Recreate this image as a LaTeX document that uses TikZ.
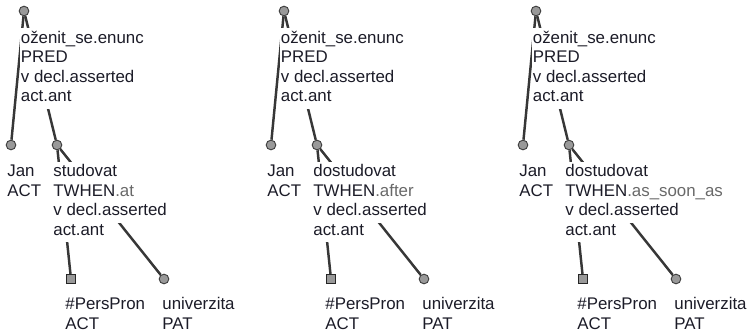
\documentclass[tikz,border=0pt]{standalone}
\usepackage{fontspec}
\setmainfont{Liberation Sans}
\usepackage{tikz}

\definecolor{txt}{RGB}{28,28,40}
\definecolor{func}{RGB}{105,105,105}
\definecolor{edgecol}{RGB}{55,55,55}
\setlength{\fboxsep}{1pt}
\newcommand{\lbox}[1]{\smash{\colorbox{white}{\strut #1}}}
\newcommand{\suff}[1]{\textcolor{func}{#1}}

\begin{document}
\begin{tikzpicture}[x=0.03cm, y=-0.03cm,
    roundnode/.style={circle, draw=black!75, fill=black!40, line width=0.8pt, inner sep=0pt, minimum size=0.29cm},
    squarenode/.style={rectangle, draw=black!85, fill=black!40, line width=0.9pt, inner sep=0pt, minimum size=0.27cm},
    treeline/.style={draw=edgecol, line width=2.1pt},
    lbl/.style={anchor=base west, inner sep=0pt, align=left, text=txt, font=\fontsize{14.4}{16.6}\selectfont}
    ]
    \useasboundingbox (0,0) rectangle (748,336);

    % tree 1 (labels placed at the baseline of their last line)
    \node [roundnode] (a1) at (24,11) {};
    \node [roundnode] (a2) at (11,145) {};
    \node [roundnode] (a3) at (57,145) {};
    \node [squarenode] (a4) at (71,279) {};
    \node [roundnode] (a5) at (164,279) {};
    \draw [treeline] (a1) edge (a2);
    \draw [treeline] (a1) edge (a3);
    \draw [treeline] (a3) edge (a4);
    \draw [treeline] (a3) edge (a5);
    \node [lbl] (a1l) at (19.5,101.5) {\lbox{oženit\_se.enunc}\\\lbox{PRED}\\\lbox{v decl.asserted}\\\lbox{act.ant}};
    \node [lbl] (a2l) at (6,196) {\lbox{Jan}\\\lbox{ACT}};
    \node [lbl] (a3l) at (52,235) {\lbox{studovat}\\\lbox{TWHEN\suff{.at}}\\\lbox{v decl.asserted}\\\lbox{act.ant}};
    \node [lbl] (a4l) at (64,329) {\lbox{\#PersPron}\\\lbox{ACT}};
    \node [lbl] (a5l) at (161,329) {\lbox{univerzita}\\\lbox{PAT}};

    % tree 2
    \begin{scope}[shift={(260,0)}]
    \node [roundnode] (b1) at (24,11) {};
    \node [roundnode] (b2) at (11,145) {};
    \node [roundnode] (b3) at (57,145) {};
    \node [squarenode] (b4) at (71,279) {};
    \node [roundnode] (b5) at (164,279) {};
    \draw [treeline] (b1) edge (b2);
    \draw [treeline] (b1) edge (b3);
    \draw [treeline] (b3) edge (b4);
    \draw [treeline] (b3) edge (b5);
    \node [lbl] (b1l) at (19.5,101.5) {\lbox{oženit\_se.enunc}\\\lbox{PRED}\\\lbox{v decl.asserted}\\\lbox{act.ant}};
    \node [lbl] (b2l) at (6,196) {\lbox{Jan}\\\lbox{ACT}};
    \node [lbl] (b3l) at (52,235) {\lbox{dostudovat}\\\lbox{TWHEN\suff{.after}}\\\lbox{v decl.asserted}\\\lbox{act.ant}};
    \node [lbl] (b4l) at (64,329) {\lbox{\#PersPron}\\\lbox{ACT}};
    \node [lbl] (b5l) at (161,329) {\lbox{univerzita}\\\lbox{PAT}};
    \end{scope}

    % tree 3
    \begin{scope}[shift={(512,0)}]
    \node [roundnode] (c1) at (24,11) {};
    \node [roundnode] (c2) at (11,145) {};
    \node [roundnode] (c3) at (57,145) {};
    \node [squarenode] (c4) at (71,279) {};
    \node [roundnode] (c5) at (164,279) {};
    \draw [treeline] (c1) edge (c2);
    \draw [treeline] (c1) edge (c3);
    \draw [treeline] (c3) edge (c4);
    \draw [treeline] (c3) edge (c5);
    \node [lbl] (c1l) at (19.5,101.5) {\lbox{oženit\_se.enunc}\\\lbox{PRED}\\\lbox{v decl.asserted}\\\lbox{act.ant}};
    \node [lbl] (c2l) at (6,196) {\lbox{Jan}\\\lbox{ACT}};
    \node [lbl] (c3l) at (52,235) {\lbox{dostudovat}\\\lbox{TWHEN\suff{.as\_soon\_as}}\\\lbox{v decl.asserted}\\\lbox{act.ant}};
    \node [lbl] (c4l) at (64,329) {\lbox{\#PersPron}\\\lbox{ACT}};
    \node [lbl] (c5l) at (161,329) {\lbox{univerzita}\\\lbox{PAT}};
    \end{scope}
\end{tikzpicture}
\end{document}
